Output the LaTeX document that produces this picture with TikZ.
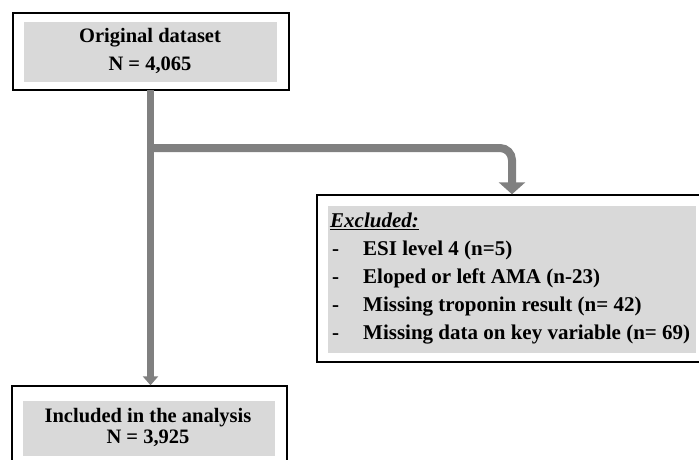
\documentclass[tikz,border=0pt]{standalone}
\usepackage{fontspec}
\setmainfont{Liberation Serif}
\usetikzlibrary{arrows.meta}
\definecolor{boxgray}{HTML}{D9D9D9}
\definecolor{arrowgray}{HTML}{808080}
\tikzset{
  outerbox/.style={draw=black, line width=1.4pt, fill=white, inner sep=0pt},
  txt/.style={inner sep=0pt, font=\fontsize{20.5}{24}\selectfont\bfseries},
  listtxt/.style={inner sep=0pt, font=\fontsize{21}{24}\selectfont\bfseries},
  mainarrow/.style={draw=arrowgray, line width=7pt, -{Triangle[width=15pt,length=9pt]}},
  brancharrow/.style={draw=arrowgray, line width=8pt, rounded corners=12pt, -{Triangle[width=26pt,length=12pt]}}
}
\begin{document}
\begin{tikzpicture}[x=1pt,y=-1pt]
\useasboundingbox (0,0) rectangle (699,459);
% boxes
\node[outerbox, minimum width=276pt, minimum height=77pt] (top) at (151,51.5) {};
\fill[boxgray] (24,22) rectangle (277,82);
\node[txt, anchor=base] (t1) at (150,42) {Original dataset};
\node[txt, anchor=base] (t2) at (150,70) {N = 4,065};

\node[outerbox, minimum width=390pt, minimum height=167pt] (excl) at (512,278.5) {};
\fill[boxgray] (328,206) rectangle (696,353);
\node[listtxt, anchor=base west] (e0) at (330,227) {\underline{\textit{Excluded:}}};
\node[listtxt, anchor=base west] (d1) at (332,255) {-};
\node[listtxt, anchor=base west] (e1) at (363,255) {ESI level 4 (n=5)};
\node[listtxt, anchor=base west] (d2) at (332,283) {-};
\node[listtxt, anchor=base west] (e2) at (363,283) {Eloped or left AMA (n-23)};
\node[listtxt, anchor=base west] (d3) at (332,311) {-};
\node[listtxt, anchor=base west] (e3) at (363,311) {Missing troponin result (n= 42)};
\node[listtxt, anchor=base west] (d4) at (332,339) {-};
\node[listtxt, anchor=base west] (e4) at (363,339) {Missing data on key variable (n= 69)};

\node[outerbox, minimum width=275pt, minimum height=80pt] (incl) at (149.5,426) {};
\fill[boxgray] (23,401) rectangle (275,456);
\node[txt, anchor=base] (i1) at (148,422) {Included in the analysis};
\node[txt, anchor=base] (i2) at (148,443) {N = 3,925};

% connectors
\coordinate (topout) at (150.5,90);
\coordinate (branch) at (150.5,148);
\draw[brancharrow] (branch) -| (excl.north);
\draw[mainarrow] (topout) -- (topout |- incl.north);
\end{tikzpicture}
\end{document}
